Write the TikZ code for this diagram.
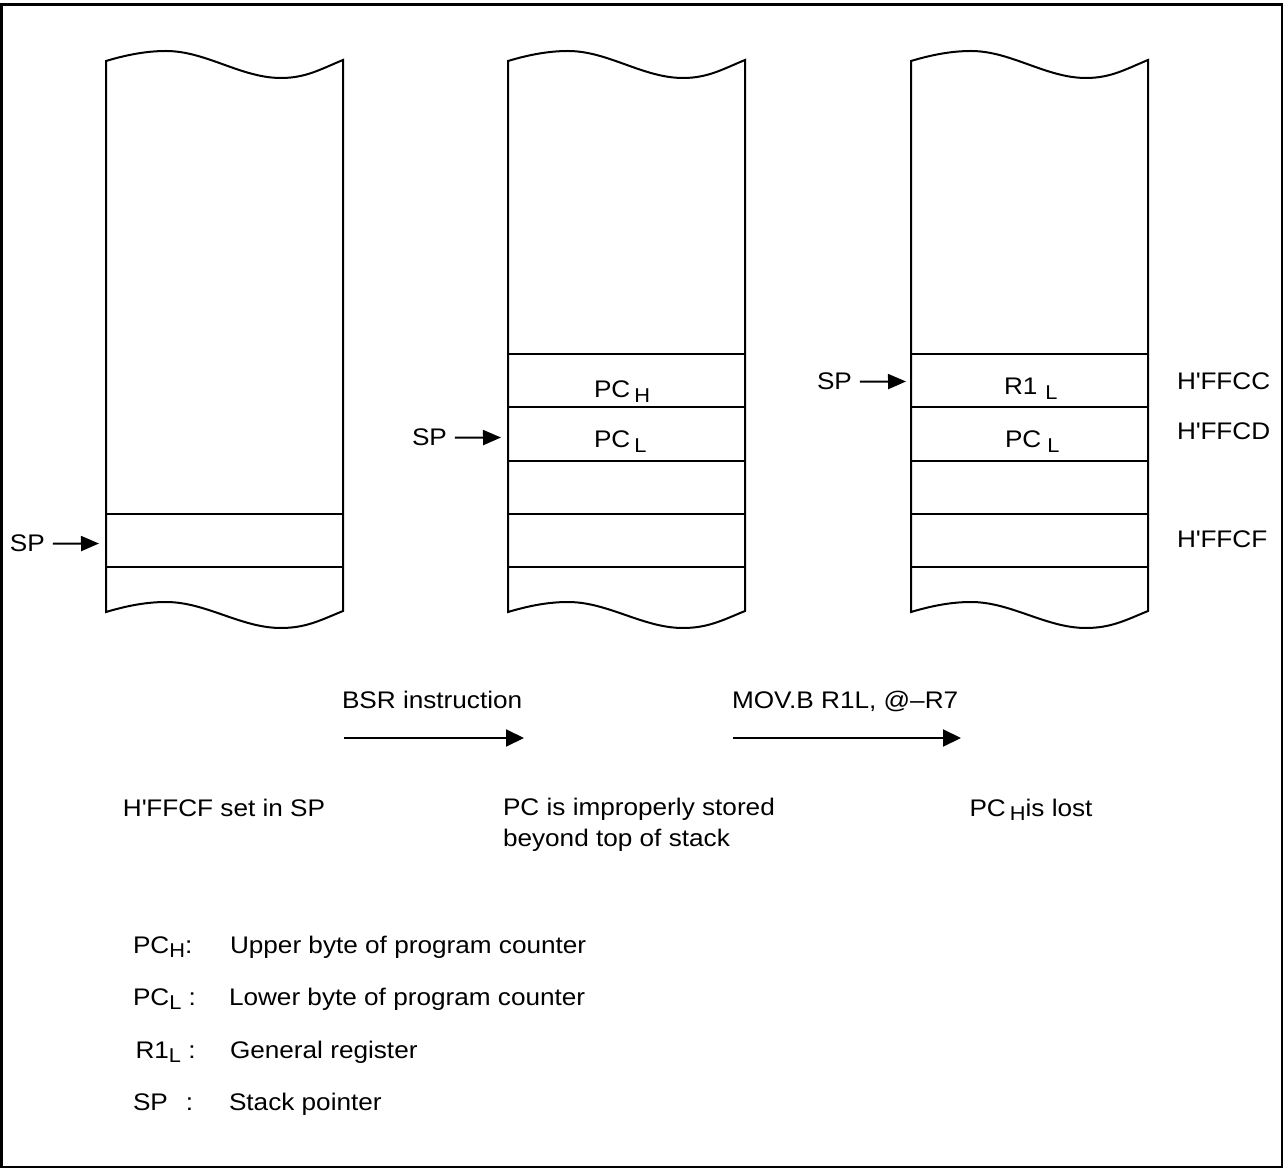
\documentclass[tikz,border=0pt]{standalone}
\usepackage{fontspec}
\setmainfont{Liberation Sans}[FakeStretch=1.09]
\usetikzlibrary{arrows.meta}

% lowered index letter as in PC_H, PC_L, R1_L
\newcommand{\lo}[1]{\raisebox{-2.2pt}{\fontsize{10}{12}\selectfont #1}}

\tikzset{
  lbl/.style={inner sep=0pt, anchor=base west},
  ctrtxt/.style={inner sep=0pt, anchor=base},
  ptr/.style={-{Triangle[length=9pt,width=7.5pt]}, line width=1pt},
  flowarrow/.style={-{Triangle[length=9pt,width=8.5pt]}, line width=1pt},
}

\begin{document}
\begin{tikzpicture}[x=0.5pt, y=-0.5pt, line width=1pt, font=\fontsize{12}{14}\selectfont]
  \useasboundingbox (0,0) rectangle (1284,1170);
  % frame
  \draw[line width=1.3pt] (1.5,4.5) rectangle (1282,1167);
  % three stack columns, torn at top and bottom
  \foreach \x in {106,508,911} {
    \draw (\x,612) -- (\x,61)
      .. controls (\x+20,55) and (\x+40,51) .. (\x+60,51)
      .. controls (\x+100,51) and (\x+135,78) .. (\x+175,78)
      .. controls (\x+200,78) and (\x+215,69) .. (\x+237,60)
      -- (\x+237,611)
      .. controls (\x+215,620) and (\x+200,628) .. (\x+175,628)
      .. controls (\x+135,628) and (\x+100,602) .. (\x+60,602)
      .. controls (\x+40,602) and (\x+20,606) .. (\x,612) -- cycle;
  }
  % byte rows
  \foreach \y in {514,567} \draw (106,\y) -- (343,\y);
  \foreach \x in {508,911}
    \foreach \y in {354,407,461,514,567} \draw (\x,\y) -- (\x+237,\y);

  % stack pointers
  \node[lbl] (sp1) at (9,552) {SP};
  \coordinate (sp1tip) at (99,543.5);
  \draw[ptr, shorten <=3.5pt] (sp1.east) -- (sp1tip);
  \node[lbl] (sp2) at (411,446) {SP};
  \coordinate (sp2tip) at (501,437.5);
  \draw[ptr, shorten <=3.5pt] (sp2.east) -- (sp2tip);
  \node[lbl] (sp3) at (816,390) {SP};
  \coordinate (sp3tip) at (906,381.5);
  \draw[ptr, shorten <=3.5pt] (sp3.east) -- (sp3tip);

  % stack contents
  \node[lbl] (pch2) at (593,398) {PC\kern2pt\lo{H}};
  \node[lbl] (pcl2) at (593,448) {PC\kern2pt\lo{L}};
  \node[lbl] (r1l3) at (1003,395) {R1\kern4pt\lo{L}};
  \node[lbl] (pcl3) at (1004,448) {PC\kern3pt\lo{L}};

  % addresses
  \node[lbl] (adcc) at (1176,390) {H\textquotesingle FFCC};
  \node[lbl] (adcd) at (1176,440) {H\textquotesingle FFCD};
  \node[lbl] (adcf) at (1176,547) {H\textquotesingle FFCF};

  % steps
  \node[lbl] (bsr) at (341,708) {BSR instruction};
  \coordinate (bsrs) at (344,738);
  \coordinate (bsre) at (524,738);
  \draw[flowarrow] (bsrs) -- (bsre);
  \node[lbl] (mov) at (731,708) {MOV.B R1L, @–R7};
  \coordinate (movs) at (733,738);
  \coordinate (move) at (961,738);
  \draw[flowarrow] (movs) -- (move);

  % results, under each column
  \node[ctrtxt] (res1) at (224,816) {H\textquotesingle FFCF set in SP};
  \node[lbl] (res2a) at (502,815) {PC is improperly stored};
  \node[lbl] (res2b) at (502,846) {beyond top of stack};
  \node[ctrtxt] (res3) at (1031,816) {PC\kern2pt\lo{H}is lost};

  % legend
  \node[lbl] (k1) at (132,953) {PC\lo{H}:};
  \node[lbl] (d1) at (229,953) {Upper byte of program counter};
  \node[lbl] (k2) at (132,1005) {PC\lo{L} :};
  \node[lbl] (d2) at (228,1005) {Lower byte of program counter};
  \node[lbl] (k3) at (134.5,1058) {R1\lo{L} :};
  \node[lbl] (d3) at (229,1058) {General register};
  \node[lbl] (k4) at (132,1110) {SP\kern9pt:};
  \node[lbl] (d4) at (228,1110) {Stack pointer};
\end{tikzpicture}
\end{document}
